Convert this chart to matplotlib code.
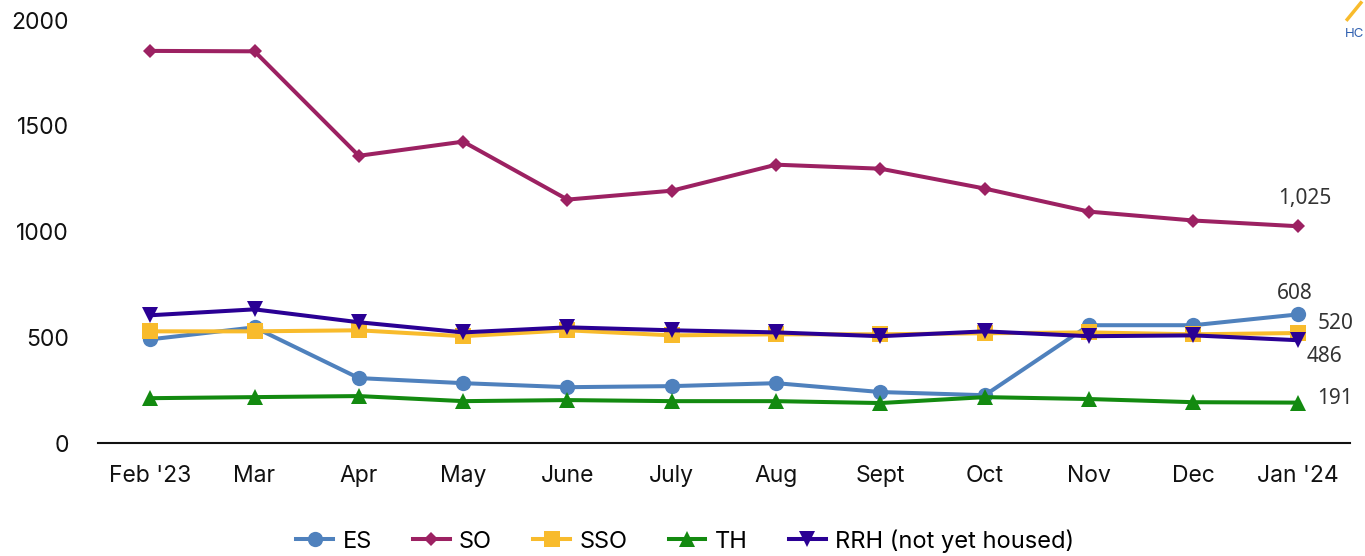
import matplotlib
matplotlib.use("Agg")
import matplotlib.pyplot as plt

# ── Data ────────────────────────────────────────────────────────────
months = ["Feb '23", "Mar", "Apr", "May", "June", "July", "Aug", "Sept",
          "Oct", "Nov", "Dec", "Jan '24"]
es  = [490, 547, 307, 283, 264, 269, 283, 241, 226, 557, 557, 608]
so  = [1854, 1852, 1358, 1425, 1151, 1193, 1316, 1297, 1203, 1094, 1052, 1025]
sso = [528, 528, 533, 505, 533, 509, 514, 514, 519, 523, 514, 520]
th  = [212, 217, 222, 198, 203, 198, 198, 189, 217, 208, 193, 191]
rrh = [604, 632, 571, 523, 547, 533, 523, 505, 528, 505, 509, 486]
yticks = [0, 500, 1000, 1500, 2000]

plt.rcParams["font.family"] = ["Inter", "DejaVu Sans"]

fig = plt.figure(figsize=(13.65, 5.56), dpi=100)
ax = fig.add_axes([0.0718, 0.2032, 0.9172, 0.7608])

x = list(range(len(months)))
series = [
    ("ES",  es,  "#4f81bd", "o", 11),
    ("SO",  so,  "#9c2162", "D", 7.5),
    ("SSO", sso, "#f8bb2c", "s", 11),
    ("TH",  th,  "#138a10", "^", 11),
    ("RRH (not yet housed)", rrh, "#2a0094", "v", 11),
]
for name, vals, col, mk, ms in series:
    ax.plot(x, vals, color=col, lw=2.9, marker=mk, markersize=ms,
            markeredgewidth=0, label=name, clip_on=False)

# ── End labels ─────────────────────────────────────────────────────
lab = dict(fontsize=15, color="#333333", family=["Noto Sans", "DejaVu Sans"])
last = len(months) - 1
ax.annotate(f"{so[-1]:,}", (last, so[-1]), xytext=(5, 20), textcoords="offset points",
            ha="center", va="center", **lab)
ax.annotate(f"{es[-1]:,}", (last, es[-1]), xytext=(-2, 15), textcoords="offset points",
            ha="center", va="center", **lab)
ax.annotate(f"{sso[-1]:,}", (last, sso[-1]), xytext=(14, 7), textcoords="offset points",
            ha="left", va="center", **lab)
ax.annotate(f"{rrh[-1]:,}", (last, rrh[-1]), xytext=(19, -12), textcoords="offset points",
            ha="center", va="center", **lab)
ax.annotate(f"{th[-1]:,}", (last, th[-1]), xytext=(14, 3), textcoords="offset points",
            ha="left", va="center", **lab)

# ── Axes styling ───────────────────────────────────────────────────
ax.set_xlim(-0.5, 11.5)
ax.set_ylim(0, 2000)
ax.set_xticks(x)
ax.set_xticklabels(months)
ax.set_yticks(yticks)
ax.tick_params(axis="both", length=0, labelsize=16.5, colors="#111111")
ax.tick_params(axis="x", pad=16)
ax.tick_params(axis="y", pad=21)
for s in ["top", "right", "left"]:
    ax.spines[s].set_visible(False)
ax.spines["bottom"].set_color("#111111")
ax.spines["bottom"].set_linewidth(1.5)

fig.legend(loc="center", bbox_to_anchor=(0.502, 0.027), ncol=5, frameon=False,
           fontsize=17, handlelength=1.55, columnspacing=1.75, handletextpad=0.4,
           borderpad=0)

# ── Corner logo fragment ───────────────────────────────────────────
fig.text(0.9995, 0.938, "HC", fontsize=9.5, color="#3060b0", ha="right", va="center")
fig.add_artist(plt.Line2D([0.987, 0.997], [0.965, 0.995], color="#f8bb2c", lw=2.5))

fig.savefig("out.png", dpi=100)
